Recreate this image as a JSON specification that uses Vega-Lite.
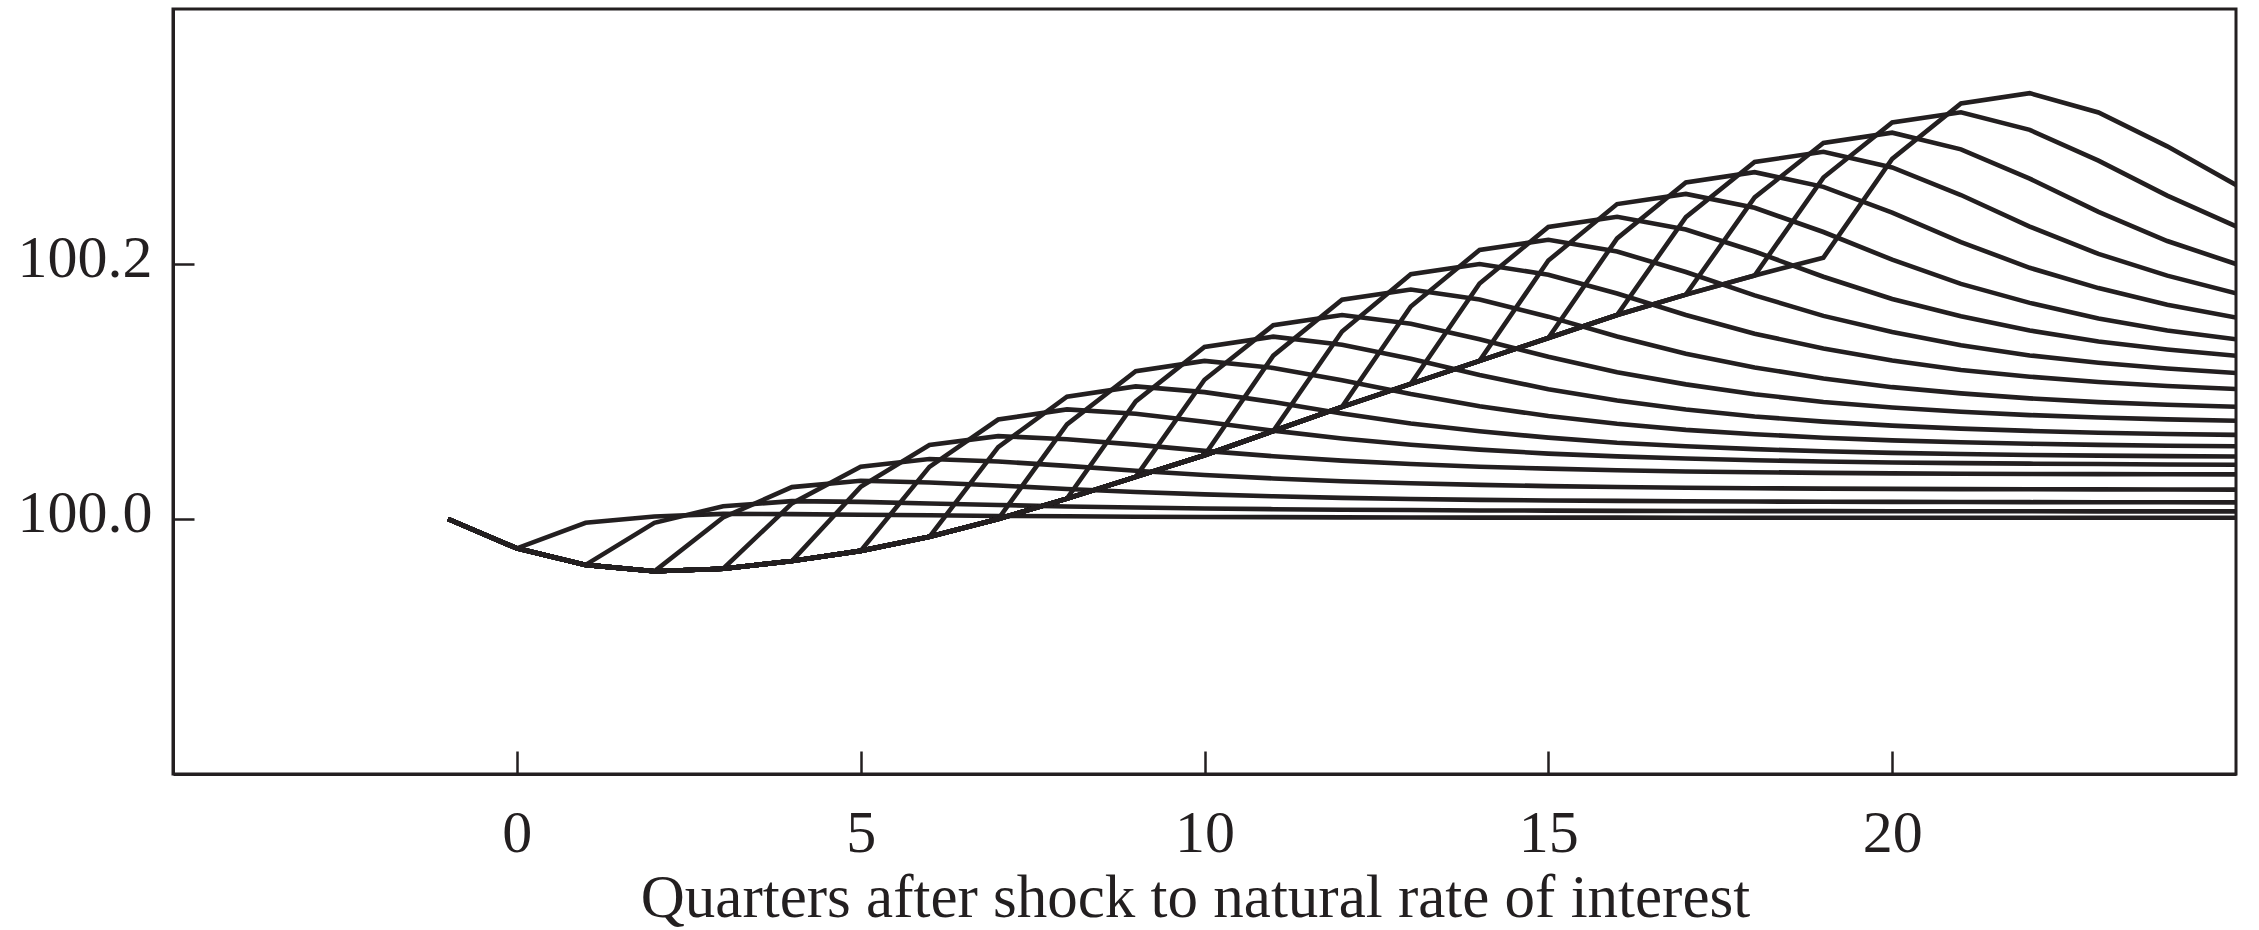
{
  "$schema": "https://vega.github.io/schema/vega-lite/v6.json",
  "width": 2063,
  "height": 765,
  "autosize": {"type": "none"},
  "padding": {"left": 173, "top": 9, "right": 23, "bottom": 156},
  "background": "white",
  "config": {
    "view": {"stroke": "#231f20", "strokeWidth": 3},
    "font": "Liberation Serif",
    "axis": {"grid": false, "domainColor": "#231f20", "domainWidth": 3, "tickColor": "#231f20", "tickWidth": 2.5, "labelColor": "#231f20", "titleColor": "#231f20", "labelFont": "Liberation Serif", "titleFont": "Liberation Serif", "titleFontWeight": "normal"}
  },
  "data": {"values": [
{"k":0,"t":-1,"v":100},{"k":0,"t":0,"v":99.977},{"k":0,"t":1,"v":99.997},{"k":0,"t":2,"v":100.002},{"k":0,"t":3,"v":100.004},{"k":0,"t":4,"v":100.0038},{"k":0,"t":5,"v":100.0033},{"k":0,"t":6,"v":100.0029},{"k":0,"t":7,"v":100.0024},{"k":0,"t":8,"v":100.0021},{"k":0,"t":9,"v":100.0018},{"k":0,"t":10,"v":100.0016},{"k":0,"t":11,"v":100.0015},{"k":0,"t":12,"v":100.0013},{"k":0,"t":13,"v":100.0012},{"k":0,"t":14,"v":100.0011},{"k":0,"t":15,"v":100.0011},{"k":0,"t":16,"v":100.0011},{"k":0,"t":17,"v":100.001},{"k":0,"t":18,"v":100.001},{"k":0,"t":19,"v":100.001},{"k":0,"t":20,"v":100.001},{"k":0,"t":21,"v":100.001},{"k":0,"t":22,"v":100.001},{"k":0,"t":23,"v":100.001},{"k":0,"t":24,"v":100.001},{"k":0,"t":25,"v":100.001},
{"k":1,"t":-1,"v":100},{"k":1,"t":0,"v":99.977},{"k":1,"t":1,"v":99.964},{"k":1,"t":2,"v":99.997},{"k":1,"t":3,"v":100.01},{"k":1,"t":4,"v":100.014},{"k":1,"t":5,"v":100.0134},{"k":1,"t":6,"v":100.0122},{"k":1,"t":7,"v":100.011},{"k":1,"t":8,"v":100.0098},{"k":1,"t":9,"v":100.009},{"k":1,"t":10,"v":100.0082},{"k":1,"t":11,"v":100.0077},{"k":1,"t":12,"v":100.0073},{"k":1,"t":13,"v":100.007},{"k":1,"t":14,"v":100.0067},{"k":1,"t":15,"v":100.0066},{"k":1,"t":16,"v":100.0064},{"k":1,"t":17,"v":100.0063},{"k":1,"t":18,"v":100.0062},{"k":1,"t":19,"v":100.0062},{"k":1,"t":20,"v":100.0061},{"k":1,"t":21,"v":100.0061},{"k":1,"t":22,"v":100.0061},{"k":1,"t":23,"v":100.006},{"k":1,"t":24,"v":100.006},{"k":1,"t":25,"v":100.006},
{"k":2,"t":-1,"v":100},{"k":2,"t":0,"v":99.977},{"k":2,"t":1,"v":99.964},{"k":2,"t":2,"v":99.959},{"k":2,"t":3,"v":100.0012},{"k":2,"t":4,"v":100.025},{"k":2,"t":5,"v":100.03},{"k":2,"t":6,"v":100.0286},{"k":2,"t":7,"v":100.0263},{"k":2,"t":8,"v":100.0235},{"k":2,"t":9,"v":100.0212},{"k":2,"t":10,"v":100.0193},{"k":2,"t":11,"v":100.0178},{"k":2,"t":12,"v":100.0166},{"k":2,"t":13,"v":100.0157},{"k":2,"t":14,"v":100.015},{"k":2,"t":15,"v":100.0145},{"k":2,"t":16,"v":100.0142},{"k":2,"t":17,"v":100.0139},{"k":2,"t":18,"v":100.0137},{"k":2,"t":19,"v":100.0135},{"k":2,"t":20,"v":100.0134},{"k":2,"t":21,"v":100.0133},{"k":2,"t":22,"v":100.0132},{"k":2,"t":23,"v":100.0131},{"k":2,"t":24,"v":100.0131},{"k":2,"t":25,"v":100.013},
{"k":3,"t":-1,"v":100},{"k":3,"t":0,"v":99.977},{"k":3,"t":1,"v":99.964},{"k":3,"t":2,"v":99.959},{"k":3,"t":3,"v":99.961},{"k":3,"t":4,"v":100.0122},{"k":3,"t":5,"v":100.041},{"k":3,"t":6,"v":100.047},{"k":3,"t":7,"v":100.0451},{"k":3,"t":8,"v":100.0417},{"k":3,"t":9,"v":100.0378},{"k":3,"t":10,"v":100.0345},{"k":3,"t":11,"v":100.0318},{"k":3,"t":12,"v":100.0296},{"k":3,"t":13,"v":100.028},{"k":3,"t":14,"v":100.0268},{"k":3,"t":15,"v":100.0258},{"k":3,"t":16,"v":100.0251},{"k":3,"t":17,"v":100.0245},{"k":3,"t":18,"v":100.0241},{"k":3,"t":19,"v":100.0238},{"k":3,"t":20,"v":100.0236},{"k":3,"t":21,"v":100.0234},{"k":3,"t":22,"v":100.0233},{"k":3,"t":23,"v":100.0232},{"k":3,"t":24,"v":100.0231},{"k":3,"t":25,"v":100.023},
{"k":4,"t":-1,"v":100},{"k":4,"t":0,"v":99.977},{"k":4,"t":1,"v":99.964},{"k":4,"t":2,"v":99.959},{"k":4,"t":3,"v":99.961},{"k":4,"t":4,"v":99.967},{"k":4,"t":5,"v":100.0252},{"k":4,"t":6,"v":100.058},{"k":4,"t":7,"v":100.065},{"k":4,"t":8,"v":100.0626},{"k":4,"t":9,"v":100.0583},{"k":4,"t":10,"v":100.0534},{"k":4,"t":11,"v":100.0492},{"k":4,"t":12,"v":100.0458},{"k":4,"t":13,"v":100.0431},{"k":4,"t":14,"v":100.041},{"k":4,"t":15,"v":100.0395},{"k":4,"t":16,"v":100.0382},{"k":4,"t":17,"v":100.0373},{"k":4,"t":18,"v":100.0367},{"k":4,"t":19,"v":100.0362},{"k":4,"t":20,"v":100.0358},{"k":4,"t":21,"v":100.0355},{"k":4,"t":22,"v":100.0353},{"k":4,"t":23,"v":100.0352},{"k":4,"t":24,"v":100.0351},{"k":4,"t":25,"v":100.035},
{"k":5,"t":-1,"v":100},{"k":5,"t":0,"v":99.977},{"k":5,"t":1,"v":99.964},{"k":5,"t":2,"v":99.959},{"k":5,"t":3,"v":99.961},{"k":5,"t":4,"v":99.967},{"k":5,"t":5,"v":99.975},{"k":5,"t":6,"v":100.0409},{"k":5,"t":7,"v":100.078},{"k":5,"t":8,"v":100.086},{"k":5,"t":9,"v":100.0825},{"k":5,"t":10,"v":100.0763},{"k":5,"t":11,"v":100.0693},{"k":5,"t":12,"v":100.0632},{"k":5,"t":13,"v":100.0583},{"k":5,"t":14,"v":100.0544},{"k":5,"t":15,"v":100.0513},{"k":5,"t":16,"v":100.0491},{"k":5,"t":17,"v":100.0474},{"k":5,"t":18,"v":100.0461},{"k":5,"t":19,"v":100.0451},{"k":5,"t":20,"v":100.0443},{"k":5,"t":21,"v":100.0438},{"k":5,"t":22,"v":100.0434},{"k":5,"t":23,"v":100.0431},{"k":5,"t":24,"v":100.0428},{"k":5,"t":25,"v":100.0426},
{"k":6,"t":-1,"v":100},{"k":6,"t":0,"v":99.977},{"k":6,"t":1,"v":99.964},{"k":6,"t":2,"v":99.959},{"k":6,"t":3,"v":99.961},{"k":6,"t":4,"v":99.967},{"k":6,"t":5,"v":99.975},{"k":6,"t":6,"v":99.986},{"k":6,"t":7,"v":100.0564},{"k":6,"t":8,"v":100.096},{"k":6,"t":9,"v":100.104},{"k":6,"t":10,"v":100.0995},{"k":6,"t":11,"v":100.0917},{"k":6,"t":12,"v":100.0828},{"k":6,"t":13,"v":100.0749},{"k":6,"t":14,"v":100.0688},{"k":6,"t":15,"v":100.0638},{"k":6,"t":16,"v":100.0598},{"k":6,"t":17,"v":100.057},{"k":6,"t":18,"v":100.0548},{"k":6,"t":19,"v":100.0531},{"k":6,"t":20,"v":100.0519},{"k":6,"t":21,"v":100.051},{"k":6,"t":22,"v":100.0502},{"k":6,"t":23,"v":100.0497},{"k":6,"t":24,"v":100.0493},{"k":6,"t":25,"v":100.049},
{"k":7,"t":-1,"v":100},{"k":7,"t":0,"v":99.977},{"k":7,"t":1,"v":99.964},{"k":7,"t":2,"v":99.959},{"k":7,"t":3,"v":99.961},{"k":7,"t":4,"v":99.967},{"k":7,"t":5,"v":99.975},{"k":7,"t":6,"v":99.986},{"k":7,"t":7,"v":100},{"k":7,"t":8,"v":100.0742},{"k":7,"t":9,"v":100.116},{"k":7,"t":10,"v":100.124},{"k":7,"t":11,"v":100.1185},{"k":7,"t":12,"v":100.1089},{"k":7,"t":13,"v":100.098},{"k":7,"t":14,"v":100.0884},{"k":7,"t":15,"v":100.0808},{"k":7,"t":16,"v":100.0747},{"k":7,"t":17,"v":100.0699},{"k":7,"t":18,"v":100.0665},{"k":7,"t":19,"v":100.0637},{"k":7,"t":20,"v":100.0617},{"k":7,"t":21,"v":100.0602},{"k":7,"t":22,"v":100.059},{"k":7,"t":23,"v":100.0581},{"k":7,"t":24,"v":100.0575},{"k":7,"t":25,"v":100.057},
{"k":8,"t":-1,"v":100},{"k":8,"t":0,"v":99.977},{"k":8,"t":1,"v":99.964},{"k":8,"t":2,"v":99.959},{"k":8,"t":3,"v":99.961},{"k":8,"t":4,"v":99.967},{"k":8,"t":5,"v":99.975},{"k":8,"t":6,"v":99.986},{"k":8,"t":7,"v":100},{"k":8,"t":8,"v":100.016},{"k":8,"t":9,"v":100.0922},{"k":8,"t":10,"v":100.135},{"k":8,"t":11,"v":100.143},{"k":8,"t":12,"v":100.1367},{"k":8,"t":13,"v":100.1256},{"k":8,"t":14,"v":100.1129},{"k":8,"t":15,"v":100.1018},{"k":8,"t":16,"v":100.093},{"k":8,"t":17,"v":100.0859},{"k":8,"t":18,"v":100.0804},{"k":8,"t":19,"v":100.0764},{"k":8,"t":20,"v":100.0732},{"k":8,"t":21,"v":100.0709},{"k":8,"t":22,"v":100.0691},{"k":8,"t":23,"v":100.0677},{"k":8,"t":24,"v":100.0667},{"k":8,"t":25,"v":100.066},
{"k":9,"t":-1,"v":100},{"k":9,"t":0,"v":99.977},{"k":9,"t":1,"v":99.964},{"k":9,"t":2,"v":99.959},{"k":9,"t":3,"v":99.961},{"k":9,"t":4,"v":99.967},{"k":9,"t":5,"v":99.975},{"k":9,"t":6,"v":99.986},{"k":9,"t":7,"v":100},{"k":9,"t":8,"v":100.016},{"k":9,"t":9,"v":100.033},{"k":9,"t":10,"v":100.1092},{"k":9,"t":11,"v":100.152},{"k":9,"t":12,"v":100.16},{"k":9,"t":13,"v":100.1531},{"k":9,"t":14,"v":100.141},{"k":9,"t":15,"v":100.1272},{"k":9,"t":16,"v":100.1151},{"k":9,"t":17,"v":100.1056},{"k":9,"t":18,"v":100.0979},{"k":9,"t":19,"v":100.0918},{"k":9,"t":20,"v":100.0875},{"k":9,"t":21,"v":100.0841},{"k":9,"t":22,"v":100.0815},{"k":9,"t":23,"v":100.0796},{"k":9,"t":24,"v":100.0781},{"k":9,"t":25,"v":100.077},
{"k":10,"t":-1,"v":100},{"k":10,"t":0,"v":99.977},{"k":10,"t":1,"v":99.964},{"k":10,"t":2,"v":99.959},{"k":10,"t":3,"v":99.961},{"k":10,"t":4,"v":99.967},{"k":10,"t":5,"v":99.975},{"k":10,"t":6,"v":99.986},{"k":10,"t":7,"v":100},{"k":10,"t":8,"v":100.016},{"k":10,"t":9,"v":100.033},{"k":10,"t":10,"v":100.05},{"k":10,"t":11,"v":100.1281},{"k":10,"t":12,"v":100.172},{"k":10,"t":13,"v":100.18},{"k":10,"t":14,"v":100.1722},{"k":10,"t":15,"v":100.1587},{"k":10,"t":16,"v":100.1431},{"k":10,"t":17,"v":100.1296},{"k":10,"t":18,"v":100.1189},{"k":10,"t":19,"v":100.1102},{"k":10,"t":20,"v":100.1034},{"k":10,"t":21,"v":100.0985},{"k":10,"t":22,"v":100.0946},{"k":10,"t":23,"v":100.0917},{"k":10,"t":24,"v":100.0896},{"k":10,"t":25,"v":100.088},
{"k":11,"t":-1,"v":100},{"k":11,"t":0,"v":99.977},{"k":11,"t":1,"v":99.964},{"k":11,"t":2,"v":99.959},{"k":11,"t":3,"v":99.961},{"k":11,"t":4,"v":99.967},{"k":11,"t":5,"v":99.975},{"k":11,"t":6,"v":99.986},{"k":11,"t":7,"v":100},{"k":11,"t":8,"v":100.016},{"k":11,"t":9,"v":100.033},{"k":11,"t":10,"v":100.05},{"k":11,"t":11,"v":100.069},{"k":11,"t":12,"v":100.1471},{"k":11,"t":13,"v":100.192},{"k":11,"t":14,"v":100.2},{"k":11,"t":15,"v":100.1916},{"k":11,"t":16,"v":100.1769},{"k":11,"t":17,"v":100.16},{"k":11,"t":18,"v":100.1453},{"k":11,"t":19,"v":100.1337},{"k":11,"t":20,"v":100.1243},{"k":11,"t":21,"v":100.1169},{"k":11,"t":22,"v":100.1116},{"k":11,"t":23,"v":100.1074},{"k":11,"t":24,"v":100.1043},{"k":11,"t":25,"v":100.102},
{"k":12,"t":-1,"v":100},{"k":12,"t":0,"v":99.977},{"k":12,"t":1,"v":99.964},{"k":12,"t":2,"v":99.959},{"k":12,"t":3,"v":99.961},{"k":12,"t":4,"v":99.967},{"k":12,"t":5,"v":99.975},{"k":12,"t":6,"v":99.986},{"k":12,"t":7,"v":100},{"k":12,"t":8,"v":100.016},{"k":12,"t":9,"v":100.033},{"k":12,"t":10,"v":100.05},{"k":12,"t":11,"v":100.069},{"k":12,"t":12,"v":100.088},{"k":12,"t":13,"v":100.1667},{"k":12,"t":14,"v":100.211},{"k":12,"t":15,"v":100.219},{"k":12,"t":16,"v":100.2098},{"k":12,"t":17,"v":100.1937},{"k":12,"t":18,"v":100.1754},{"k":12,"t":19,"v":100.1593},{"k":12,"t":20,"v":100.1467},{"k":12,"t":21,"v":100.1363},{"k":12,"t":22,"v":100.1283},{"k":12,"t":23,"v":100.1226},{"k":12,"t":24,"v":100.118},{"k":12,"t":25,"v":100.1145},
{"k":13,"t":-1,"v":100},{"k":13,"t":0,"v":99.977},{"k":13,"t":1,"v":99.964},{"k":13,"t":2,"v":99.959},{"k":13,"t":3,"v":99.961},{"k":13,"t":4,"v":99.967},{"k":13,"t":5,"v":99.975},{"k":13,"t":6,"v":99.986},{"k":13,"t":7,"v":100},{"k":13,"t":8,"v":100.016},{"k":13,"t":9,"v":100.033},{"k":13,"t":10,"v":100.05},{"k":13,"t":11,"v":100.069},{"k":13,"t":12,"v":100.088},{"k":13,"t":13,"v":100.106},{"k":13,"t":14,"v":100.1847},{"k":13,"t":15,"v":100.229},{"k":13,"t":16,"v":100.237},{"k":13,"t":17,"v":100.2271},{"k":13,"t":18,"v":100.2098},{"k":13,"t":19,"v":100.19},{"k":13,"t":20,"v":100.1726},{"k":13,"t":21,"v":100.159},{"k":13,"t":22,"v":100.1479},{"k":13,"t":23,"v":100.1392},{"k":13,"t":24,"v":100.133},{"k":13,"t":25,"v":100.128},
{"k":14,"t":-1,"v":100},{"k":14,"t":0,"v":99.977},{"k":14,"t":1,"v":99.964},{"k":14,"t":2,"v":99.959},{"k":14,"t":3,"v":99.961},{"k":14,"t":4,"v":99.967},{"k":14,"t":5,"v":99.975},{"k":14,"t":6,"v":99.986},{"k":14,"t":7,"v":100},{"k":14,"t":8,"v":100.016},{"k":14,"t":9,"v":100.033},{"k":14,"t":10,"v":100.05},{"k":14,"t":11,"v":100.069},{"k":14,"t":12,"v":100.088},{"k":14,"t":13,"v":100.106},{"k":14,"t":14,"v":100.124},{"k":14,"t":15,"v":100.2027},{"k":14,"t":16,"v":100.247},{"k":14,"t":17,"v":100.255},{"k":14,"t":18,"v":100.2441},{"k":14,"t":19,"v":100.2251},{"k":14,"t":20,"v":100.2034},{"k":14,"t":21,"v":100.1844},{"k":14,"t":22,"v":100.1695},{"k":14,"t":23,"v":100.1573},{"k":14,"t":24,"v":100.1478},{"k":14,"t":25,"v":100.141},
{"k":15,"t":-1,"v":100},{"k":15,"t":0,"v":99.977},{"k":15,"t":1,"v":99.964},{"k":15,"t":2,"v":99.959},{"k":15,"t":3,"v":99.961},{"k":15,"t":4,"v":99.967},{"k":15,"t":5,"v":99.975},{"k":15,"t":6,"v":99.986},{"k":15,"t":7,"v":100},{"k":15,"t":8,"v":100.016},{"k":15,"t":9,"v":100.033},{"k":15,"t":10,"v":100.05},{"k":15,"t":11,"v":100.069},{"k":15,"t":12,"v":100.088},{"k":15,"t":13,"v":100.106},{"k":15,"t":14,"v":100.124},{"k":15,"t":15,"v":100.142},{"k":15,"t":16,"v":100.2201},{"k":15,"t":17,"v":100.264},{"k":15,"t":18,"v":100.272},{"k":15,"t":19,"v":100.2605},{"k":15,"t":20,"v":100.2403},{"k":15,"t":21,"v":100.2172},{"k":15,"t":22,"v":100.197},{"k":15,"t":23,"v":100.1811},{"k":15,"t":24,"v":100.1681},{"k":15,"t":25,"v":100.158},
{"k":16,"t":-1,"v":100},{"k":16,"t":0,"v":99.977},{"k":16,"t":1,"v":99.964},{"k":16,"t":2,"v":99.959},{"k":16,"t":3,"v":99.961},{"k":16,"t":4,"v":99.967},{"k":16,"t":5,"v":99.975},{"k":16,"t":6,"v":99.986},{"k":16,"t":7,"v":100},{"k":16,"t":8,"v":100.016},{"k":16,"t":9,"v":100.033},{"k":16,"t":10,"v":100.05},{"k":16,"t":11,"v":100.069},{"k":16,"t":12,"v":100.088},{"k":16,"t":13,"v":100.106},{"k":16,"t":14,"v":100.124},{"k":16,"t":15,"v":100.142},{"k":16,"t":16,"v":100.16},{"k":16,"t":17,"v":100.2368},{"k":16,"t":18,"v":100.28},{"k":16,"t":19,"v":100.288},{"k":16,"t":20,"v":100.2757},{"k":16,"t":21,"v":100.2541},{"k":16,"t":22,"v":100.2294},{"k":16,"t":23,"v":100.2079},{"k":16,"t":24,"v":100.1909},{"k":16,"t":25,"v":100.177},
{"k":17,"t":-1,"v":100},{"k":17,"t":0,"v":99.977},{"k":17,"t":1,"v":99.964},{"k":17,"t":2,"v":99.959},{"k":17,"t":3,"v":99.961},{"k":17,"t":4,"v":99.967},{"k":17,"t":5,"v":99.975},{"k":17,"t":6,"v":99.986},{"k":17,"t":7,"v":100},{"k":17,"t":8,"v":100.016},{"k":17,"t":9,"v":100.033},{"k":17,"t":10,"v":100.05},{"k":17,"t":11,"v":100.069},{"k":17,"t":12,"v":100.088},{"k":17,"t":13,"v":100.106},{"k":17,"t":14,"v":100.124},{"k":17,"t":15,"v":100.142},{"k":17,"t":16,"v":100.16},{"k":17,"t":17,"v":100.176},{"k":17,"t":18,"v":100.2522},{"k":17,"t":19,"v":100.295},{"k":17,"t":20,"v":100.303},{"k":17,"t":21,"v":100.2899},{"k":17,"t":22,"v":100.267},{"k":17,"t":23,"v":100.2409},{"k":17,"t":24,"v":100.218},{"k":17,"t":25,"v":100.2},
{"k":18,"t":-1,"v":100},{"k":18,"t":0,"v":99.977},{"k":18,"t":1,"v":99.964},{"k":18,"t":2,"v":99.959},{"k":18,"t":3,"v":99.961},{"k":18,"t":4,"v":99.967},{"k":18,"t":5,"v":99.975},{"k":18,"t":6,"v":99.986},{"k":18,"t":7,"v":100},{"k":18,"t":8,"v":100.016},{"k":18,"t":9,"v":100.033},{"k":18,"t":10,"v":100.05},{"k":18,"t":11,"v":100.069},{"k":18,"t":12,"v":100.088},{"k":18,"t":13,"v":100.106},{"k":18,"t":14,"v":100.124},{"k":18,"t":15,"v":100.142},{"k":18,"t":16,"v":100.16},{"k":18,"t":17,"v":100.176},{"k":18,"t":18,"v":100.191},{"k":18,"t":19,"v":100.2678},{"k":18,"t":20,"v":100.311},{"k":18,"t":21,"v":100.319},{"k":18,"t":22,"v":100.3052},{"k":18,"t":23,"v":100.2811},{"k":18,"t":24,"v":100.2536},{"k":18,"t":25,"v":100.2295},
{"k":19,"t":-1,"v":100},{"k":19,"t":0,"v":99.977},{"k":19,"t":1,"v":99.964},{"k":19,"t":2,"v":99.959},{"k":19,"t":3,"v":99.961},{"k":19,"t":4,"v":99.967},{"k":19,"t":5,"v":99.975},{"k":19,"t":6,"v":99.986},{"k":19,"t":7,"v":100},{"k":19,"t":8,"v":100.016},{"k":19,"t":9,"v":100.033},{"k":19,"t":10,"v":100.05},{"k":19,"t":11,"v":100.069},{"k":19,"t":12,"v":100.088},{"k":19,"t":13,"v":100.106},{"k":19,"t":14,"v":100.124},{"k":19,"t":15,"v":100.142},{"k":19,"t":16,"v":100.16},{"k":19,"t":17,"v":100.176},{"k":19,"t":18,"v":100.191},{"k":19,"t":19,"v":100.205},{"k":19,"t":20,"v":100.2824},{"k":19,"t":21,"v":100.326},{"k":19,"t":22,"v":100.334},{"k":19,"t":23,"v":100.3188},{"k":19,"t":24,"v":100.2923},{"k":19,"t":25,"v":100.262}
  ]},
  "mark": {"type": "line", "color": "#231f20", "strokeWidth": 4.6, "strokeJoin": "miter", "clip": true},
  "encoding": {
    "x": {"field": "t", "type": "quantitative",
      "scale": {"domain": [-5, 25], "nice": false, "zero": false},
      "axis": {"values": [0, 5, 10, 15, 20], "tickSize": -23, "labelPadding": 53, "labelFontSize": 60, "title": "Quarters after shock to natural rate of interest", "titleFontSize": 61, "titlePadding": 5, "titleX": 1022}},
    "y": {"field": "v", "type": "quantitative",
      "scale": {"domain": [99.8, 100.4], "nice": false, "zero": false},
      "axis": {"values": [100.0, 100.2], "format": ".1f", "tickSize": -21, "labelPadding": 42, "labelFontSize": 60, "labelOffset": -6, "title": null}},
    "detail": {"field": "k", "type": "nominal"}
  }
}
